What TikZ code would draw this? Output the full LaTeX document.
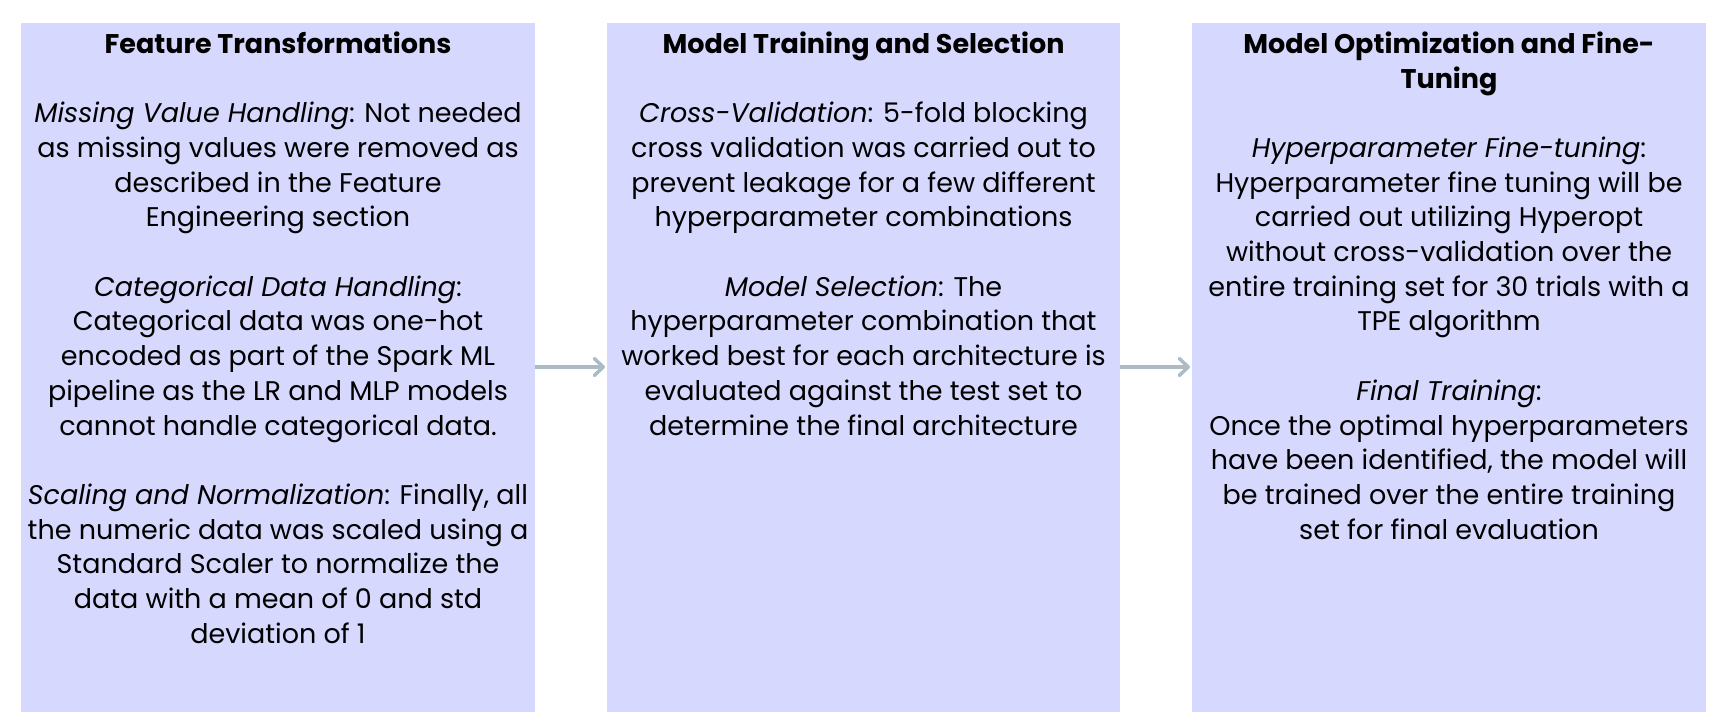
\documentclass[tikz,border=0pt]{standalone}
\usepackage{fontspec}
\setmainfont{Poppins}
\usetikzlibrary{arrows.meta}
\definecolor{boxfill}{HTML}{D6D8FE}
\definecolor{arrowgray}{HTML}{ADBCC4}
\newcommand{\lbl}[1]{{\itshape #1}:}
\tikzset{
  panel/.style={fill=boxfill, draw=none},
  paneltext/.style={anchor=north, align=center, inner sep=0pt, font=\fontsize{27}{34.7}\selectfont},
  flow/.style={draw=arrowgray, line width=3.5pt, -{Straight Barb[length=9pt,width=17pt,line width=3.5pt,round]}}
}
\begin{document}
\begin{tikzpicture}[x=1pt,y=-1pt]
\useasboundingbox (0,0) rectangle (1736,720);
\path[panel] (21,23) rectangle (535,712);
\path[panel] (607,23) rectangle (1120,712);
\path[panel] (1192,23) rectangle (1706,712);
\coordinate (b1) at (535,367);
\coordinate (b2l) at (605,367);
\coordinate (b2r) at (1120,367);
\coordinate (b3) at (1190,367);
\node[paneltext] (t1) at (278,31.5) {\textbf{Feature Transformations}\\ \mbox{}\\
\lbl{Missing Value Handling} Not needed\\ as missing values were removed as\\ described in the Feature\\ Engineering section\\ \mbox{}\\
\lbl{Categorical Data Handling}\\ Categorical data was one-hot\\ encoded as part of the Spark ML\\ pipeline as the LR and MLP models\\ cannot handle categorical data.\\ \mbox{}\\
\lbl{Scaling and Normalization} Finally, all\\ the numeric data was scaled using a\\ Standard Scaler to normalize the\\ data with a mean of 0 and std\\ deviation of 1};
\node[paneltext] (t2) at (863.5,31.5) {\textbf{Model Training and Selection}\\ \mbox{}\\
\lbl{Cross-Validation} 5-fold blocking\\ cross validation was carried out to\\ prevent leakage for a few different\\ hyperparameter combinations\\ \mbox{}\\
\lbl{Model Selection} The\\ hyperparameter combination that\\ worked best for each architecture is\\ evaluated against the test set to\\ determine the final architecture};
\node[paneltext] (t3) at (1449,31.5) {\textbf{Model Optimization and Fine-}\\ \textbf{Tuning}\\ \mbox{}\\
\lbl{Hyperparameter Fine-tuning}\\ Hyperparameter fine tuning will be\\ carried out utilizing Hyperopt\\ without cross-validation over the\\ entire training set for 30 trials with a\\ TPE algorithm\\ \mbox{}\\
\lbl{Final Training}\\ Once the optimal hyperparameters\\ have been identified, the model will\\ be trained over the entire training\\ set for final evaluation};
\draw[flow] (b1) -- (b2l);
\draw[flow] (b2r) -- (b3);
\end{tikzpicture}
\end{document}
